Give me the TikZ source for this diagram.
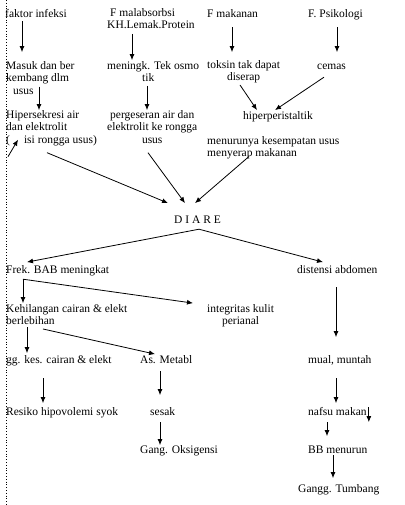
\documentclass[tikz,border=0pt]{standalone}
\usepackage{fontspec}
\setmainfont{Liberation Serif}
\usetikzlibrary{arrows.meta}
\tikzset{
    txt/.style={
        inner sep=0pt,
        anchor=north west,
        align=left,
        execute at begin node=\strut,
        execute at end node=\strut
    },
    ctxt/.style={
        txt,
        align=center
    },
    arrow/.style={
        -{Latex[length=6pt,width=5pt]},
        line width=0.8pt
    },
    margin/.style={
        dotted,
        line width=0.8pt
    }
}
\begin{document}
\begin{tikzpicture}[x=1pt,y=-1pt,font=\fontsize{11.5}{12.7}\selectfont]
\useasboundingbox (0,0) rectangle (404,505);

\draw[margin] (6,0) -- (6,505);

\node[txt] (infeksi) at (5,8.1) {faktor infeksi};
\node[txt] (malab) at (107,8.1) {\hspace*{3pt}F malabsorbsi\\KH.Lemak.Protein};
\node[txt] (makanan) at (207,8.1) {F makanan};
\node[txt] (psiko) at (308,8.1) {F. Psikologi};

\node[txt] (masuk) at (6,61.1) {Masuk dan ber\\kembang dlm\\\hspace*{7pt}usus};
\node[txt] (meningk) at (107,61.1) {meningk. Tek osmo\\\hspace*{35pt}tik};
\node[ctxt] (toksin) at (207,60.1) {toksin tak dapat\\diserap};
\node[txt] (cemas) at (317,60.1) {cemas};

\node[txt] (hipersek) at (6,110.1) {Hipersekresi air\\dan elektrolit\\(\hspace*{14pt}isi rongga usus)};
\node[ctxt] (geser) at (107,110.1) {pergeseran air dan\\elektrolit ke rongga\\usus};
\node[txt] (hiper) at (243,110.1) {hiperperistaltik};
\node[txt] (menurun) at (207,136.1) {menurunya kesempatan usus\\menyerap makanan};

\node[txt] (diare) at (174,214.1) {D I A R E};

\node[txt] (frek) at (6,264.1) {Frek. BAB meningkat};
\node[txt] (distensi) at (297,264.1) {distensi abdomen};
\node[txt] (hilang) at (6,304.1) {Kehilangan cairan \& elekt\\berlebihan};
\node[ctxt] (integ) at (207,304.1) {integritas kulit\\perianal};
\node[txt] (ggkes) at (6,354.1) {gg. kes. cairan \& elekt};
\node[txt] (asmet) at (140,354.1) {As. Metabl};
\node[txt] (mual) at (308,354.1) {mual, muntah};
\node[txt] (resiko) at (6,406.1) {Resiko hipovolemi syok};
\node[txt] (sesak) at (150,406.1) {sesak};
\node[txt] (nafsu) at (308,406.1) {nafsu makan};
\node[txt] (oksi) at (140,444.1) {Gang. Oksigensi};
\node[txt] (bb) at (308,444.1) {BB menurun};
\node[txt] (tumbang) at (298,483.1) {Gangg. Tumbang};

\draw[arrow] ([xshift=17pt]infeksi.south west) -- ([xshift=16pt,yshift=9pt]masuk.north west);
\draw[arrow] ([xshift=25pt,yshift=-1pt]malab.south west) -- ([xshift=25pt,yshift=1pt]meningk.north west);
\draw[arrow] ([xshift=25pt,yshift=-6pt]makanan.south west) -- ([xshift=25pt,yshift=8pt]toksin.north west);
\draw[arrow] ([xshift=29pt,yshift=-6pt]psiko.south west) -- ([xshift=20pt,yshift=8pt]cemas.north west);

\draw[arrow] ([xshift=33pt,yshift=12pt]masuk.south west) -- ([xshift=33pt]hipersek.north west);
\draw[arrow] ([xshift=40pt]meningk.south west) -- ([xshift=40pt]geser.north west);
\draw[arrow] ([xshift=33pt]toksin.south west) -- ([xshift=14pt]hiper.north west);
\draw[arrow] ([xshift=7pt,yshift=-4pt]cemas.south west) -- ([xshift=32pt]hiper.north west);
\draw[arrow] ([xshift=2pt,yshift=-9pt]hipersek.south west) -- ([xshift=12pt,yshift=8pt]hipersek.south west);

\draw[arrow] ([xshift=41pt,yshift=-5pt]hipersek.south west) -- ([xshift=-6pt,yshift=11pt]diare.north west);
\draw[arrow] ([xshift=41pt,yshift=-5pt]geser.south west) -- ([xshift=11pt,yshift=11pt]diare.north west);
\draw[arrow] ([xshift=42pt,yshift=4.5pt]menurun.south west) -- ([xshift=21pt,yshift=11pt]diare.north west);

\draw[arrow] ([xshift=25pt,yshift=-2pt]diare.south west) -- ([xshift=21pt,yshift=2pt]frek.north west);
\draw[arrow] ([xshift=25pt,yshift=-2pt]diare.south west) -- ([xshift=26pt,yshift=2pt]distensi.north west);

\draw[arrow] ([xshift=17pt,yshift=-2pt]frek.south west) -- ([xshift=17pt,yshift=1pt]hilang.north west);
\draw[arrow] ([xshift=17pt,yshift=-2pt]frek.south west) -- ([xshift=-14pt,yshift=1pt]integ.north west);
\draw[arrow] ([xshift=39pt,yshift=-10pt]distensi.south west) -- ([xshift=28pt,yshift=17pt]mual.north west);

\draw[arrow] ([xshift=21pt,yshift=1.5pt]hilang.south west) -- ([xshift=21pt,yshift=1pt]ggkes.north west);
\draw[arrow] ([xshift=37pt]hilang.south west) -- ([xshift=15pt]asmet.north west);

\draw[arrow] ([xshift=37pt,yshift=-11pt]ggkes.south west) -- ([xshift=37pt,yshift=3pt]resiko.north west);
\draw[arrow] ([xshift=20pt,yshift=-4pt]asmet.south west) -- ([xshift=10pt,yshift=11pt]sesak.north west);
\draw[arrow] ([xshift=28pt,yshift=-11pt]mual.south west) -- ([xshift=28pt,yshift=3pt]nafsu.north west);
\draw[arrow] ([xshift=2pt,yshift=-1pt]nafsu.north east) -- ([xshift=2pt,yshift=-16pt]nafsu.north east);

\draw[arrow] ([xshift=10pt,yshift=-3pt]sesak.south west) -- ([xshift=20pt,yshift=-1pt]oksi.north west);
\draw[arrow] ([xshift=19pt,yshift=-3pt]nafsu.south west) -- ([xshift=19pt,yshift=8pt]bb.north west);
\draw[arrow] ([xshift=25pt,yshift=2pt]bb.south west) -- ([xshift=35pt,yshift=5pt]tumbang.north west);

\end{tikzpicture}
\end{document}
